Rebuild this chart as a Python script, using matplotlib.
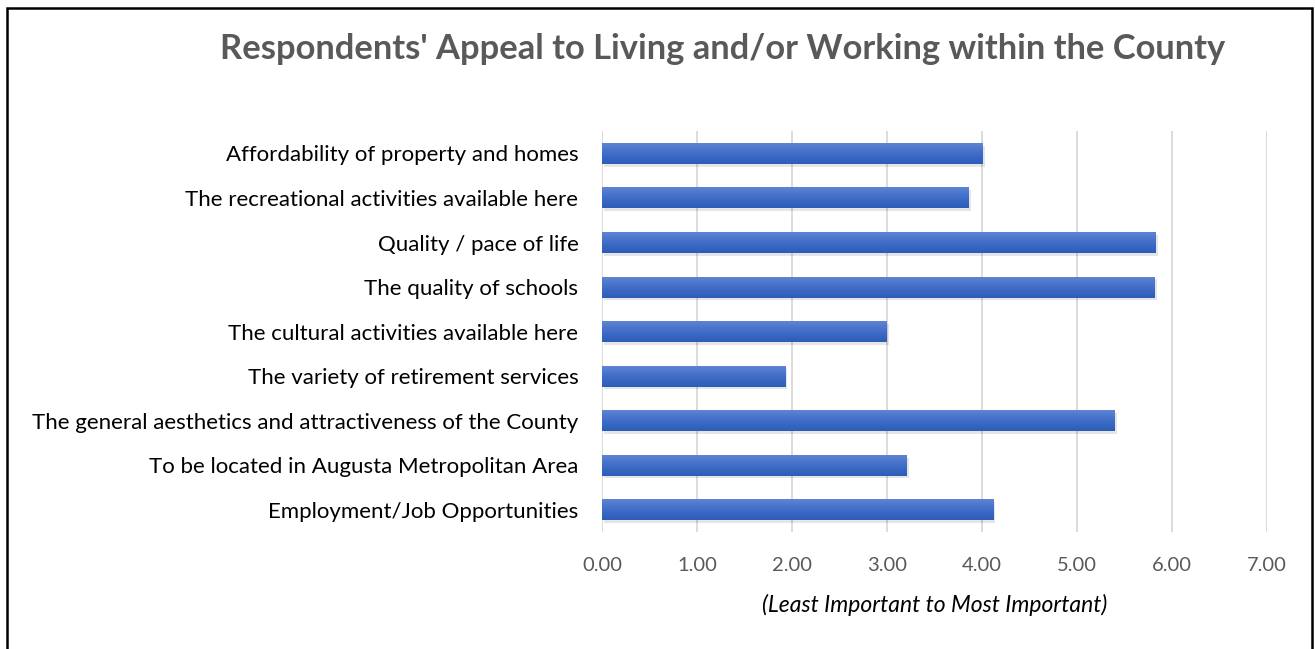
import matplotlib.pyplot as plt
import numpy as np
from matplotlib.patches import Rectangle
from matplotlib.colors import LinearSegmentedColormap

# categories (top to bottom as shown) and mean scores
categories = [
    "Affordability of property and homes",
    "The recreational activities available here",
    "Quality / pace of life",
    "The quality of schools",
    "The cultural activities available here",
    "The variety of retirement services",
    "The general aesthetics and attractiveness of the County",
    "To be located in Augusta Metropolitan Area",
    "Employment/Job Opportunities",
]
scores = [4.01, 3.86, 5.83, 5.82, 3.00, 1.93, 5.40, 3.21, 4.12]
x_ticks = [0, 1, 2, 3, 4, 5, 6, 7]

plt.rcParams['font.family'] = ['Lato', 'DejaVu Sans']

fig = plt.figure(figsize=(13.15, 6.49), dpi=100)
ax = fig.add_axes([0.4578, 0.180, 0.5057, 0.618])

y = np.arange(len(categories))
bar_h = 0.47

# soft shadow under each bar
ax.barh(y + 0.06, scores, height=bar_h, left=0.02, color="#000000", alpha=0.10, zorder=2)
bars = ax.barh(y, scores, height=bar_h, color="#4472C4", zorder=3)

# vertical gradient fill inside each bar
grad = LinearSegmentedColormap.from_list("g", ["#5F83D3", "#3F6DC8", "#2C5DB8"])
for b in bars:
    x0, y0 = b.get_x(), b.get_y()
    w, h = b.get_width(), b.get_height()
    im = ax.imshow(np.linspace(0, 1, 50).reshape(-1, 1), cmap=grad, aspect="auto",
                   extent=[x0, x0 + w, y0, y0 + h], origin="lower", zorder=4)
    im.set_clip_path(b)

ax.set_xlim(0, 7)
ax.set_ylim(len(categories) - 0.5, -0.5)
ax.set_xticks(x_ticks)
ax.set_xticklabels([f"{t:.2f}" for t in x_ticks], fontsize=14.5, color="#595959")
ax.set_yticks(y)
ax.set_yticklabels(categories, fontsize=16, color="#000000")
ax.tick_params(axis="both", length=0)
ax.tick_params(axis="x", pad=18)
ax.tick_params(axis="y", pad=17)
ax.grid(axis="x", color="#D9D9D9", linewidth=1.3, zorder=0)
ax.set_axisbelow(True)
for s in ax.spines.values():
    s.set_visible(False)

ax.set_xlabel("(Least Important to Most Important)", fontsize=16.5, style="italic",
              color="#000000", labelpad=14)

fig.text(0.5498, 0.925, "Respondents' Appeal to Living and/or Working within the County",
         ha="center", va="center", fontsize=24.8, fontweight="bold", color="#595959")

# outer frame (bottom edge is cut off in the original)
frame = Rectangle((7 / 1315, -0.05), (1312 - 7) / 1315, 1.05 - 8 / 649,
                  transform=fig.transFigure, fill=False, edgecolor="black", linewidth=1.8)
fig.add_artist(frame)

fig.savefig("out.png", dpi=100)
